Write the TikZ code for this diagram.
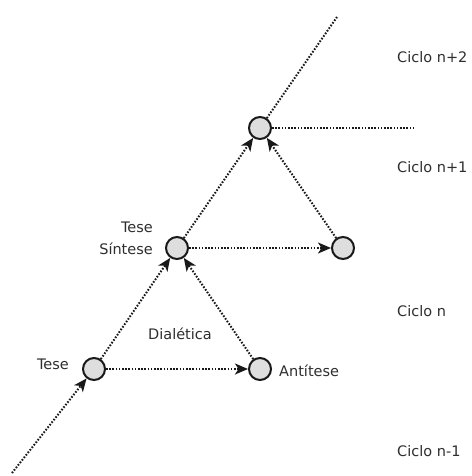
\documentclass[tikz,border=0pt]{standalone}
\usepackage{fontspec}
\setmainfont{DejaVu Sans}
\usetikzlibrary{arrows.meta}
\begin{document}
\begin{tikzpicture}[x=1pt,y=-1pt,
  state/.style={circle,draw=black!90,line width=2pt,fill=black!13,minimum size=22pt,inner sep=0pt},
  flow/.style={line width=2pt,dash pattern=on 1.6pt off 1.6pt,black!90},
  tip/.style={-{Stealth[length=13pt,width=11pt,inset=3.5pt]}},
  lbl/.style={font=\fontsize{14.5}{16}\selectfont,text=black!82,inner sep=0pt}]
\useasboundingbox (0,0) rectangle (471,476);
% circles of the spiral
\node[state] (tese) at (94,369) {};
\node[state] (anti) at (260,369) {};
\node[state] (sint) at (177,248) {};
\node[state] (right) at (343,248) {};
\node[state] (top) at (260,128) {};
% free ends
\coordinate (start) at (12,473);
\coordinate (up) at (337,17);
\coordinate (east) at (415,128);
% connectors
\draw[flow,tip] (start) -- (tese);
\draw[flow,tip] (tese) -- (anti);
\draw[flow,tip] (tese) -- (sint);
\draw[flow,tip] (anti) -- (sint);
\draw[flow,tip] (sint) -- (right);
\draw[flow,tip] (sint) -- (top);
\draw[flow,tip] (right) -- (top);
\draw[flow] (top) -- (up);
\draw[flow] (top) -- (east);
% labels
\node[lbl,anchor=east] (ltese) at (69,364) {Tese};
\node[lbl,anchor=west] (lanti) at (279,371) {Antítese};
\node[lbl] (ldial) at (180,334) {Dialética};
\node[lbl,anchor=east] (ltese2) at (153,227) {Tese};
\node[lbl,anchor=east] (lsint) at (153,249) {Síntese};
\node[lbl,anchor=west] (c2) at (397,57) {Ciclo n+2};
\node[lbl,anchor=west] (c1) at (397,167) {Ciclo n+1};
\node[lbl,anchor=west] (c0) at (397,311) {Ciclo n};
\node[lbl,anchor=west] (cm) at (397,451) {Ciclo n-1};
\end{tikzpicture}
\end{document}
